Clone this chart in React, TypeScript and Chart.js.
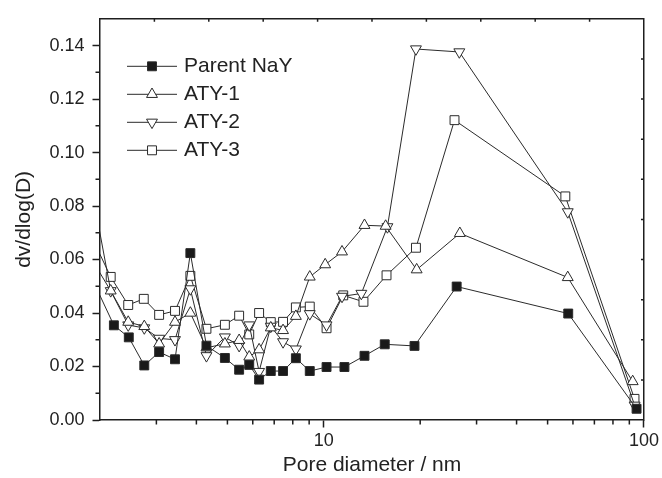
import React, { useEffect, useRef } from 'react';
import { Chart, registerables } from 'chart.js';

Chart.register(...registerables);

// ---------------- data ----------------
const seriesNames = ['Parent NaY', 'ATY-1', 'ATY-2', 'ATY-3'];

const parentX = [1.9, 2.21, 2.46, 2.75, 3.06, 3.43, 3.83, 4.3, 4.91, 5.44, 5.85, 6.28, 6.83, 7.46, 8.18, 9.04, 10.2, 11.6, 13.4, 15.5, 19.2, 26.0, 58.0, 94.8];
const parentY = [0.0522, 0.0354, 0.0309, 0.0204, 0.0254, 0.0227, 0.0624, 0.0278, 0.0232, 0.0188, 0.0206, 0.0151, 0.0183, 0.0183, 0.0231, 0.0183, 0.0198, 0.0198, 0.024, 0.0283, 0.0277, 0.0499, 0.0398, 0.0042];

const aty1X = [1.9, 2.16, 2.45, 2.75, 3.06, 3.43, 3.83, 4.3, 4.91, 5.44, 5.85, 6.28, 6.83, 7.46, 8.18, 9.04, 10.1, 11.4, 13.4, 15.6, 19.5, 26.6, 57.8, 92.2];
const aty1Y = [0.0594, 0.0483, 0.0366, 0.035, 0.0285, 0.0366, 0.04, 0.027, 0.0285, 0.0298, 0.0236, 0.0263, 0.0345, 0.0335, 0.0388, 0.0535, 0.0581, 0.0629, 0.0728, 0.0725, 0.0562, 0.0698, 0.0533, 0.0144];

const aty2X = [1.9, 2.16, 2.45, 2.75, 3.06, 3.43, 3.83, 4.3, 4.91, 5.44, 5.85, 6.28, 6.83, 7.46, 8.18, 9.04, 10.2, 11.4, 13.1, 15.8, 19.4, 26.5, 57.8, 93.5];
const aty2Y = [0.0841, 0.0483, 0.0355, 0.0344, 0.0305, 0.03, 0.049, 0.024, 0.031, 0.0278, 0.0355, 0.0181, 0.035, 0.0292, 0.0265, 0.0397, 0.0355, 0.0462, 0.0473, 0.0722, 0.1387, 0.1376, 0.0778, 0.0055];

const aty3X = [1.9, 2.16, 2.45, 2.74, 3.06, 3.43, 3.83, 4.3, 4.91, 5.44, 5.85, 6.28, 6.83, 7.46, 8.18, 9.04, 10.2, 11.5, 13.3, 15.7, 19.4, 25.6, 56.8, 93.4];
const aty3Y = [0.0675, 0.0535, 0.043, 0.0453, 0.0393, 0.0408, 0.0539, 0.0341, 0.0356, 0.039, 0.032, 0.04, 0.0366, 0.0367, 0.0421, 0.0424, 0.0343, 0.0466, 0.0442, 0.0541, 0.0644, 0.1121, 0.0836, 0.0079];

const majorXTicks = [10, 100];
const minorXTicks = [3, 4, 5, 6, 7, 8, 9, 20, 30, 40, 50, 60, 70, 80, 90];
const majorYTicks = [0, 0.02, 0.04, 0.06, 0.08, 0.1, 0.12, 0.14];
const minorYTicks = [0.01, 0.03, 0.05, 0.07, 0.09, 0.11, 0.13];
const frameTicks = [1, 2, 3, 4, 5, 6, 7, 8, 9];

// ---------------- style ----------------
const FONT = "'Liberation Sans', Arial, Helvetica, sans-serif";
const AXIS = '#1e1e1e';
const LINE = '#2b2b2b';
const TEXT = '#222222';
const R = 6.3;

const toPoints = (xs: number[], ys: number[]) => xs.map((x, i) => ({ x, y: ys[i] }));

function drawMarker(ctx: CanvasRenderingContext2D, style: string, rot: number, x: number, y: number, fill: string) {
  ctx.beginPath();
  if (style === 'rect') {
    const s = Math.SQRT1_2 * R;
    ctx.rect(x - s, y - s, 2 * s, 2 * s);
  } else {
    let rad = (rot * Math.PI) / 180;
    ctx.moveTo(x + Math.sin(rad) * R, y - Math.cos(rad) * R);
    rad += (2 * Math.PI) / 3;
    ctx.lineTo(x + Math.sin(rad) * R, y - Math.cos(rad) * R);
    rad += (2 * Math.PI) / 3;
    ctx.lineTo(x + Math.sin(rad) * R, y - Math.cos(rad) * R);
    ctx.closePath();
  }
  ctx.fillStyle = fill;
  ctx.fill();
  ctx.lineWidth = 1;
  ctx.strokeStyle = LINE;
  ctx.stroke();
}

const decorPlugin = {
  id: 'decor',
  afterDraw(chart: any) {
    const { ctx, chartArea: a, scales } = chart;
    ctx.save();
    ctx.strokeStyle = AXIS;
    ctx.lineWidth = 1.5;
    ctx.beginPath();
    minorXTicks.forEach((v) => {
      const px = scales.x.getPixelForValue(v);
      ctx.moveTo(px, a.bottom);
      ctx.lineTo(px, a.bottom + 4.5);
    });
    minorYTicks.forEach((v) => {
      const py = scales.y.getPixelForValue(v);
      ctx.moveTo(a.left, py);
      ctx.lineTo(a.left - 4.5, py);
    });
    frameTicks.forEach((v) => {
      const px = scales.x2.getPixelForValue(v);
      ctx.moveTo(px, a.top);
      ctx.lineTo(px, a.top + 3);
      const py = scales.y2.getPixelForValue(v);
      ctx.moveTo(a.right, py);
      ctx.lineTo(a.right - 3, py);
    });
    ctx.stroke();

    // legend
    const ds = chart.data.datasets;
    ctx.font = `21px ${FONT}`;
    ctx.textBaseline = 'middle';
    ctx.textAlign = 'left';
    ds.forEach((d: any, i: number) => {
      const y = a.top + 47.5 + i * 28;
      const x0 = a.left + 27;
      ctx.beginPath();
      ctx.strokeStyle = LINE;
      ctx.lineWidth = 1;
      ctx.moveTo(x0, y);
      ctx.lineTo(x0 + 50, y);
      ctx.stroke();
      drawMarker(ctx, d.pointStyle, d.pointRotation || 0, x0 + 25, y, d.pointBackgroundColor);
      ctx.fillStyle = TEXT;
      ctx.fillText(d.label, x0 + 57, y);
    });
    ctx.restore();
  },
};

export default function App() {
  const ref = useRef<HTMLCanvasElement | null>(null);

  useEffect(() => {
    if (!ref.current) return;
    Chart.defaults.font.family = FONT;
    const mk = (i: number, xs: number[], ys: number[], style: string, rot: number, fill: string) => ({
      label: seriesNames[i],
      data: toPoints(xs, ys),
      borderColor: LINE,
      borderWidth: 1,
      pointStyle: style,
      pointRotation: rot,
      pointRadius: R,
      pointHoverRadius: R,
      pointBackgroundColor: fill,
      pointBorderColor: LINE,
      pointBorderWidth: 1,
      tension: 0,
      fill: false,
      clip: 0,
    });
    const chart = new Chart(ref.current, {
      type: 'line',
      data: {
        datasets: [
          mk(3, aty3X, aty3Y, 'rect', 0, '#ffffff'),
          mk(2, aty2X, aty2Y, 'triangle', 180, '#ffffff'),
          mk(1, aty1X, aty1Y, 'triangle', 0, '#ffffff'),
          mk(0, parentX, parentY, 'rect', 0, '#1a1a1a'),
        ].reverse() as any,
      },
      options: {
        responsive: false,
        animation: false,
        devicePixelRatio: 1,
        layout: { padding: { left: 0, top: 15, right: 18, bottom: 0 } },
        plugins: { legend: { display: false }, tooltip: { enabled: false } },
        events: [],
        scales: {
          x: {
            type: 'logarithmic',
            position: 'bottom',
            min: 2,
            max: 100,
            afterBuildTicks: (s: any) => {
              s.ticks = majorXTicks.map((v) => ({ value: v }));
            },
            afterFit: (s: any) => {
              s.height = 58;
            },
            ticks: {
              callback: (v: any) => String(v),
              font: { size: 18, family: FONT },
              color: TEXT,
              padding: 3,
              maxRotation: 0,
              autoSkip: false,
            },
            grid: { drawOnChartArea: false, drawTicks: true, tickLength: 7.5, tickColor: AXIS, tickWidth: 1.5 },
            border: { display: true, color: AXIS, width: 1.5 },
            title: {
              display: true,
              text: 'Pore diameter / nm',
              font: { size: 21, family: FONT },
              color: TEXT,
              padding: { top: 0, bottom: 0 },
            },
          },
          y: {
            type: 'linear',
            position: 'left',
            min: 0,
            max: 0.15,
            afterBuildTicks: (s: any) => {
              s.ticks = majorYTicks.map((v) => ({ value: v }));
            },
            afterFit: (s: any) => {
              s.width = 100;
            },
            ticks: {
              callback: (v: any) => Number(v).toFixed(2),
              font: { size: 18, family: FONT },
              color: TEXT,
              padding: 8,
            },
            grid: { drawOnChartArea: false, drawTicks: true, tickLength: 7.5, tickColor: AXIS, tickWidth: 1.5 },
            border: { display: true, color: AXIS, width: 1.5 },
            title: {
              display: true,
              text: 'dv/dlog(D)',
              font: { size: 21, family: FONT },
              color: TEXT,
              padding: { top: 12, bottom: 0 },
            },
          },
          x2: {
            type: 'linear',
            position: 'top',
            min: 0,
            max: 10,
            ticks: { display: false },
            grid: { display: false, drawTicks: false },
            border: { display: true, color: AXIS, width: 1.5 },
            afterFit: (s: any) => {
              s.height = 0;
            },
          },
          y2: {
            type: 'linear',
            position: 'right',
            min: 0,
            max: 10,
            ticks: { display: false },
            grid: { display: false, drawTicks: false },
            border: { display: true, color: AXIS, width: 1.5 },
            afterFit: (s: any) => {
              s.width = 0;
            },
          },
        },
      } as any,
      plugins: [decorPlugin],
    });
    return () => chart.destroy();
  }, []);

  return (
    <div style={{ position: 'fixed', left: 0, top: 0, width: 662, height: 478, background: '#fff' }}>
      <canvas ref={ref} width={662} height={478} style={{ display: 'block', width: 662, height: 478 }} />
    </div>
  );
}
